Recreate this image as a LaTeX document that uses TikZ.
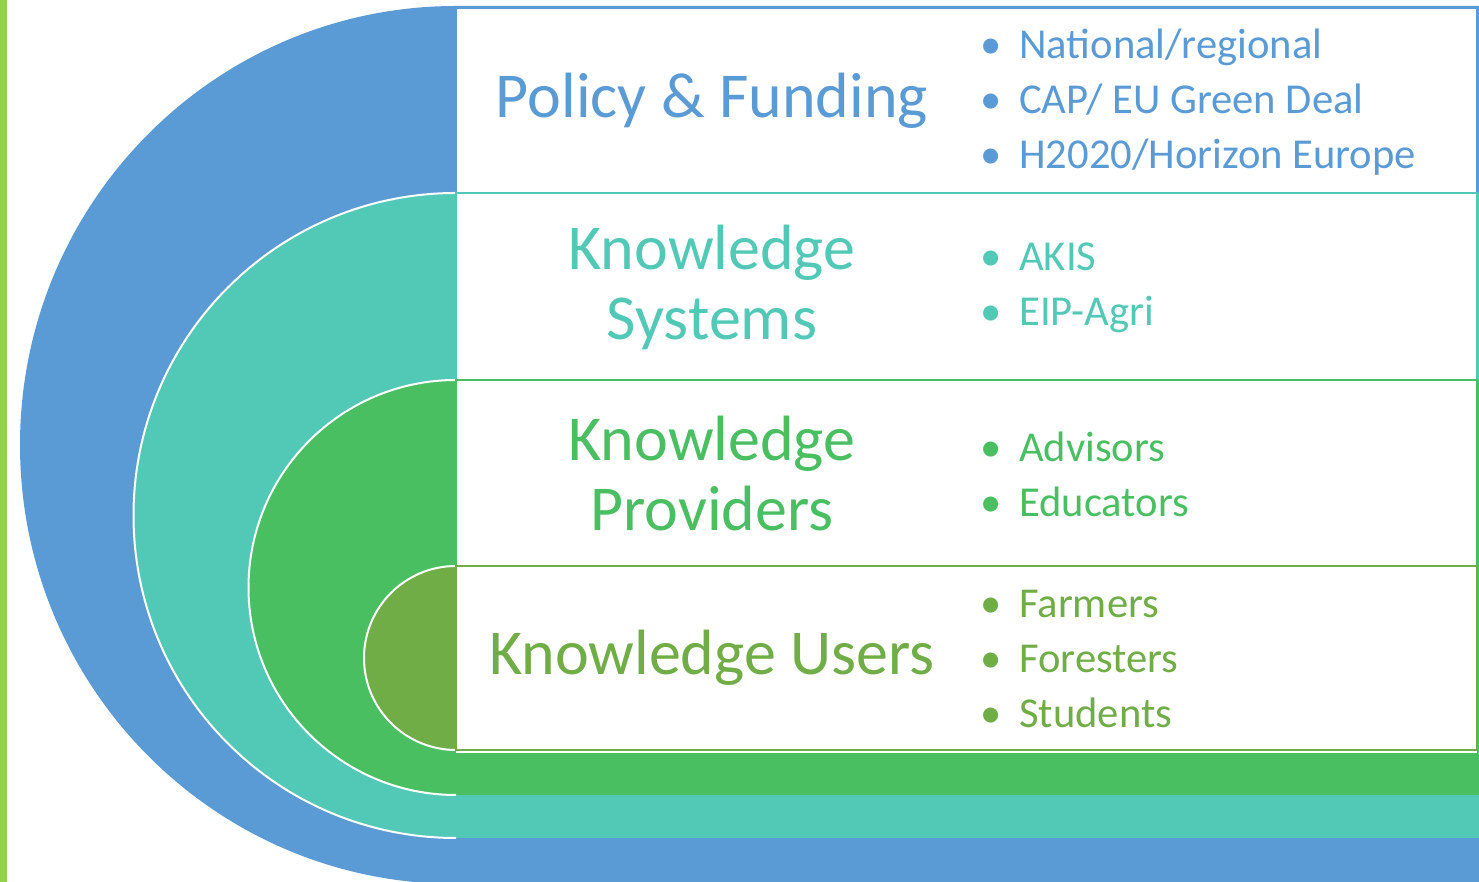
\documentclass[tikz,border=0pt]{standalone}
\usepackage{fontspec}
\setmainfont{Carlito}
\usepackage{tikz}

\definecolor{polblue}{HTML}{5B9BD5}
\definecolor{systeal}{HTML}{52C9B6}
\definecolor{provgreen}{HTML}{4ABF62}
\definecolor{usrolive}{HTML}{70AD47}
\definecolor{limebar}{HTML}{92D050}

\begin{document}
\begin{tikzpicture}[x=0.5pt,y=0.5pt,
    title/.style={font=\fontsize{32}{35}\selectfont, align=center},
    items/.style={font=\fontsize{21.3}{27.5}\selectfont, align=left, anchor=west},
    layer/.style={draw=white, line width=1pt}]
  \useasboundingbox (0,0) rectangle (1479,882);
  \fill[limebar] (0,0) rectangle (7,882);
  % half rings with bands
  \fill[polblue] (456,876) arc[start angle=90, end angle=270, x radius=436, y radius=439] -- (1479,-2) -- (1479,876) -- cycle;
  \fill[systeal] (456,689) arc[start angle=90, end angle=270, radius=322.5] -- (1479,44) -- (1479,689) -- cycle;
  \draw[layer] (456,689) arc[start angle=90, end angle=270, radius=322.5];
  \fill[provgreen] (456,502) arc[start angle=90, end angle=270, radius=207.5] -- (1479,87) -- (1479,502) -- cycle;
  \draw[layer] (456,502) arc[start angle=90, end angle=270, radius=207.5];
  \fill[usrolive] (456,316) arc[start angle=90, end angle=270, radius=92] -- cycle;
  \draw[layer] (456,316) arc[start angle=90, end angle=270, radius=92];
  % boxes
  \draw[polblue, line width=1pt, fill=white] (456,874) rectangle (1477,689);
  \draw[systeal, line width=1pt, fill=white] (456,689) rectangle (1477,502);
  \draw[provgreen, line width=1pt, fill=white] (456,502) rectangle (1477,316);
  \draw[usrolive, line width=1pt, fill=white] (456,316) rectangle (1477,132);
  \draw[white, line width=1pt] (456,130) -- (1477,130);
  % titles
  \node[title, text=polblue] (polT) at (712,781.5) {Policy \& Funding};
  \node[title, text=systeal] (sysT) at (712,594.5) {Knowledge\\Systems};
  \node[title, text=provgreen] (provT) at (712,408) {Knowledge\\Providers};
  \node[title, text=usrolive] (usrT) at (712,224) {Knowledge Users};
  % lists
  \node[items, text=polblue] (polL) at (973,780) {\textbullet\hspace{9pt}National/regional\\\textbullet\hspace{9pt}CAP/ EU Green Deal\\\textbullet\hspace{9pt}H2020/Horizon Europe};
  \node[items, text=systeal] (sysL) at (973,594) {\textbullet\hspace{9pt}AKIS\\\textbullet\hspace{9pt}EIP-Agri};
  \node[items, text=provgreen] (provL) at (973,408) {\textbullet\hspace{9pt}Advisors\\\textbullet\hspace{9pt}Educators};
  \node[items, text=usrolive] (usrL) at (973,223) {\textbullet\hspace{9pt}Farmers\\\textbullet\hspace{9pt}Foresters\\\textbullet\hspace{9pt}Students};
\end{tikzpicture}
\end{document}
